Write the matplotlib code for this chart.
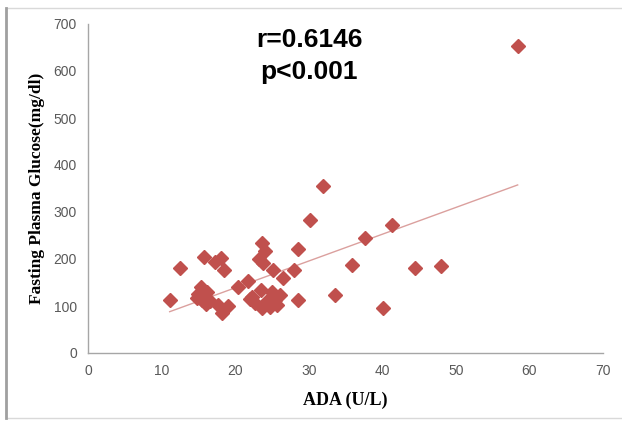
import numpy as np
import matplotlib
matplotlib.use("Agg")
import matplotlib.pyplot as plt
from matplotlib.patches import Rectangle

# ADA (U/L) vs fasting plasma glucose (mg/dl)
ada = [11.1, 12.5, 15.0, 15.4, 15.8, 15.7, 16.2, 16.6, 16.0, 14.8, 15.5,
       17.3, 18.1, 18.5, 17.7, 18.2, 19.0, 20.4, 21.8, 22.3, 22.0, 22.7,
       23.5, 23.6, 23.7, 24.0, 23.2, 23.8, 24.3, 24.7, 25.0, 25.1, 25.4,
       25.7, 26.1, 26.5, 28.0, 28.5, 28.5, 30.2, 31.9, 33.6, 35.9, 37.6,
       40.1, 41.3, 44.4, 48.0, 58.4]
fpg = [113, 180, 125, 140, 204, 119, 130, 110, 105, 118, 112,
       194, 202, 177, 102, 85, 100, 140, 153, 119, 115, 106,
       134, 96, 235, 216, 200, 192, 110, 98, 130, 177, 113,
       102, 123, 159, 177, 221, 112, 283, 355, 123, 187, 245,
       96, 273, 181, 185, 653]

r_text = "r=0.6146"
p_text = "p<0.001"
x_ticks = [0, 10, 20, 30, 40, 50, 60, 70]
y_ticks = [0, 100, 200, 300, 400, 500, 600, 700]

marker_color = "#C0504D"
trend_color = "#DBA09E"
tick_color = "#595959"
axis_color = "#A6A6A6"

fig = plt.figure(figsize=(6.22, 4.25), dpi=100)
ax = fig.add_axes([88 / 622, 72 / 425, 515 / 622, 329 / 425])

# linear trendline over the data range
x = np.array(ada)
y = np.array(fpg)
slope, intercept = np.polyfit(x, y, 1)
xs = np.array([x.min(), x.max()])
ax.plot(xs, slope * xs + intercept, color=trend_color, lw=1.0, zorder=2)

ax.plot(x, y, linestyle="none", marker="D", markersize=7.5,
        color=marker_color, markeredgecolor=marker_color, zorder=3)

ax.set_xlim(0, 70)
ax.set_ylim(0, 700)
ax.set_xticks(x_ticks)
ax.set_yticks(y_ticks)
ax.tick_params(length=0, labelsize=10, labelcolor=tick_color, pad=8)
for lab in ax.get_xticklabels() + ax.get_yticklabels():
    lab.set_family("Liberation Sans")

for side in ["top", "right"]:
    ax.spines[side].set_visible(False)
for side in ["left", "bottom"]:
    ax.spines[side].set_color(axis_color)
    ax.spines[side].set_linewidth(1.0)

ax.set_xlabel("ADA (U/L)", family="Liberation Serif", fontweight="bold",
              fontsize=13, labelpad=10)
ax.set_ylabel("Fasting Plasma Glucose(mg/dl)", family="Liberation Serif",
              fontweight="bold", fontsize=12.5, labelpad=6)

fig.text(309 / 622, 1 - 40 / 425, r_text, ha="center", va="center",
         family="Liberation Sans", fontweight="bold", fontsize=19)
fig.text(309 / 622, 1 - 72 / 425, p_text, ha="center", va="center",
         family="Liberation Sans", fontweight="bold", fontsize=19)

# chart area border
fig.patches.append(Rectangle((6 / 622, 7 / 425), 620 / 622, 410 / 425,
                             transform=fig.transFigure, fill=False,
                             edgecolor="#D9D9D9", lw=1.0))
fig.lines.append(plt.Line2D([6 / 622, 6 / 622], [7 / 425, 417 / 425],
                            transform=fig.transFigure, color="#A0A0A0", lw=2))

fig.savefig("out.png", dpi=100)
